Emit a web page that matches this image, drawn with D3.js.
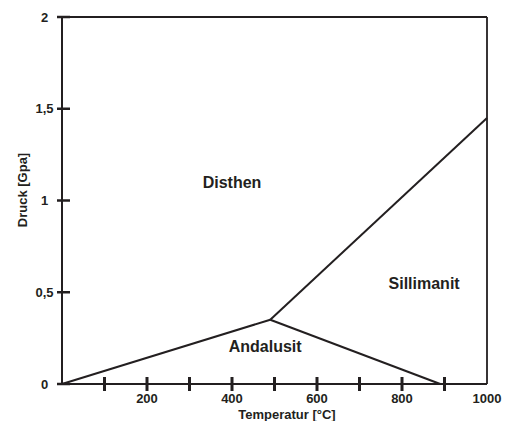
<!DOCTYPE html>
<html><head><meta charset="utf-8">
<script src="https://cdn.jsdelivr.net/npm/d3@7"></script>
<style>body{margin:0;background:#fff}svg{display:block}text{font-family:"Liberation Sans",Arial,sans-serif;font-weight:bold;fill:#231f20}</style>
</head><body>
<script>
const xTickValues=[100,200,300,400,500,600,700,800,900,1000];
const xTickLabels={200:"200",400:"400",600:"600",800:"800",1000:"1000"};
const yTickValues=[0,0.5,1,1.5,2];
const yTickLabels=["0","0,5","1","1,5","2"];
const boundaryLines=[
  {name:"Andalusit-Disthen",points:[[0,0],[490,0.35]]},
  {name:"Andalusit-Sillimanit",points:[[490,0.35],[890,0]]},
  {name:"Disthen-Sillimanit",points:[[490,0.35],[1000,1.45]]}
];
const fieldLabels=[
  {text:"Disthen",t:400,p:1.07},
  {text:"Sillimanit",t:852,p:0.52},
  {text:"Andalusit",t:478,p:0.175}
];
const W=519,H=421;
const svg=d3.select("body").append("svg").attr("width",W).attr("height",H);
const x=d3.scaleLinear().domain([0,1000]).range([62,487]);
const y=d3.scaleLinear().domain([0,2]).range([384,17]);
const c="#231f20";
// box
svg.append("line").attr("x1",x(0)).attr("x2",x(1000)).attr("y1",y(2)).attr("y2",y(2)).attr("stroke",c).attr("stroke-width",1.8);
svg.append("line").attr("x1",x(1000)).attr("x2",x(1000)).attr("y1",y(0)).attr("y2",y(2)).attr("stroke",c).attr("stroke-width",1.8);
// x axis
svg.append("line").attr("x1",x(0)).attr("x2",x(1000)).attr("y1",y(0)).attr("y2",y(0)).attr("stroke",c).attr("stroke-width",2);
svg.selectAll(".xt").data(xTickValues.filter(d=>d<1000)).enter().append("line")
  .attr("x1",d=>x(d)).attr("x2",d=>x(d)).attr("y1",y(0)-7).attr("y2",y(0)+7).attr("stroke",c).attr("stroke-width",3);
svg.selectAll(".xl").data(xTickValues.filter(d=>xTickLabels[d])).enter().append("text")
  .attr("x",d=>x(d)).attr("y",y(0)+19).attr("text-anchor","middle").attr("font-size",13).text(d=>xTickLabels[d]);
// y axis
svg.append("line").attr("x1",x(0)).attr("x2",x(0)).attr("y1",y(0)).attr("y2",y(2)).attr("stroke",c).attr("stroke-width",2);
svg.selectAll(".yt").data(yTickValues).enter().append("line")
  .attr("x1",x(0)-5).attr("x2",x(0)+8).attr("y1",d=>y(d)).attr("y2",d=>y(d)).attr("stroke",c).attr("stroke-width",2.5);
svg.selectAll(".yl").data(yTickValues).enter().append("text")
  .attr("x",44.5).attr("y",d=>y(d)+4.5).attr("text-anchor","middle").attr("font-size",13).text((d,i)=>yTickLabels[i]);
// boundary lines
const line=d3.line().x(d=>x(d[0])).y(d=>y(d[1]));
svg.selectAll(".b").data(boundaryLines).enter().append("path")
  .attr("d",d=>line(d.points)).attr("fill","none").attr("stroke",c).attr("stroke-width",2);
// labels
svg.selectAll(".f").data(fieldLabels).enter().append("text")
  .attr("x",d=>x(d.t)).attr("y",d=>y(d.p)).attr("text-anchor","middle").attr("font-size",16).text(d=>d.text);
svg.append("text").attr("x",287).attr("y",419).attr("text-anchor","middle").attr("font-size",13).text("Temperatur [°C]");
svg.append("text").attr("transform",`translate(27,190) rotate(-90)`).attr("text-anchor","middle").attr("font-size",13).text("Druck [Gpa]");
</script>
</body></html>
